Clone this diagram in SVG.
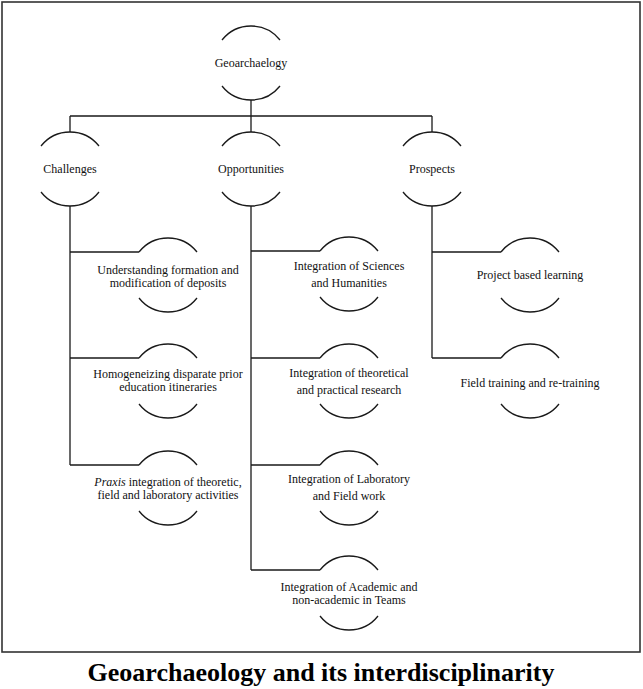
<svg xmlns="http://www.w3.org/2000/svg" width="643" height="689" viewBox="0 0 643 689">
<style>
.ln{fill:none;stroke:#1a1a1a;stroke-width:1.3}
.arc{fill:none;stroke:#1a1a1a;stroke-width:1.3}
.t{font-family:"Liberation Serif","Times New Roman",serif;font-size:12px;fill:#111;text-anchor:middle}
.ttl{font-family:"Liberation Serif","Times New Roman",serif;font-size:26px;font-weight:bold;fill:#000;text-anchor:middle}
</style>
<rect x="2" y="2" width="638" height="650" fill="#fff" stroke="#333" stroke-width="1.6"/>
<g id="connectors">
<path class="ln" d="M251,100 V116 M70,116 H432 M70,116 V132 M251,116 V132 M432,116 V132"/>
<path class="ln" d="M70,206 V465 M70,252 H139 M70,358 H139 M70,465 H139"/>
<path class="ln" d="M251,206 V570 M251,251 H320 M251,358 H320 M251,465 H320 M251,570 H320"/>
<path class="ln" d="M432,206 V358 M432,252 H501 M432,358 H501"/>
</g>
<g id="geoarchaeology">
<path class="arc" d="M222,40 A37,37 0 0 1 280,40 M222,86 A37,37 0 0 0 280,86"/>
<text class="t" x="251" y="67">Geoarchaelogy</text>
</g>
<g id="challenges">
<path class="arc" d="M41,146 A37,37 0 0 1 99,146 M41,192 A37,37 0 0 0 99,192"/>
<text class="t" x="70" y="173">Challenges</text>
</g>
<g id="opportunities">
<path class="arc" d="M222,146 A37,37 0 0 1 280,146 M222,192 A37,37 0 0 0 280,192"/>
<text class="t" x="251" y="173">Opportunities</text>
</g>
<g id="prospects">
<path class="arc" d="M403,146 A37,37 0 0 1 461,146 M403,192 A37,37 0 0 0 461,192"/>
<text class="t" x="432" y="173">Prospects</text>
</g>
<g id="understanding">
<path class="arc" d="M139,252 A37,37 0 0 1 197,252 M139,298 A37,37 0 0 0 197,298"/>
<text class="t" x="168" y="274">Understanding formation and</text>
<text class="t" x="168" y="287">modification of deposits</text>
</g>
<g id="homogeneizing">
<path class="arc" d="M139,358 A37,37 0 0 1 197,358 M139,404 A37,37 0 0 0 197,404"/>
<text class="t" x="168" y="378">Homogeneizing disparate prior</text>
<text class="t" x="168" y="391">education itineraries</text>
</g>
<g id="praxis">
<path class="arc" d="M139,465 A37,37 0 0 1 197,465 M139,511 A37,37 0 0 0 197,511"/>
<text class="t" x="168" y="486"><tspan font-style="italic">Praxis</tspan> integration of theoretic,</text>
<text class="t" x="168" y="499">field and laboratory activities</text>
</g>
<g id="sciences">
<path class="arc" d="M320,251 A37,37 0 0 1 378,251 M320,297 A37,37 0 0 0 378,297"/>
<text class="t" x="349" y="270">Integration of Sciences</text>
<text class="t" x="349" y="287">and Humanities</text>
</g>
<g id="theoretical">
<path class="arc" d="M320,358 A37,37 0 0 1 378,358 M320,404 A37,37 0 0 0 378,404"/>
<text class="t" x="349" y="377">Integration of theoretical</text>
<text class="t" x="349" y="394">and practical research</text>
</g>
<g id="laboratory">
<path class="arc" d="M320,465 A37,37 0 0 1 378,465 M320,511 A37,37 0 0 0 378,511"/>
<text class="t" x="349" y="483">Integration of Laboratory</text>
<text class="t" x="349" y="500">and Field work</text>
</g>
<g id="academic">
<path class="arc" d="M320,570 A37,37 0 0 1 378,570 M320,616 A37,37 0 0 0 378,616"/>
<text class="t" x="349" y="591">Integration of Academic and</text>
<text class="t" x="349" y="604">non-academic in Teams</text>
</g>
<g id="project">
<path class="arc" d="M501,252 A37,37 0 0 1 559,252 M501,298 A37,37 0 0 0 559,298"/>
<text class="t" x="530" y="279">Project based learning</text>
</g>
<g id="field">
<path class="arc" d="M501,358 A37,37 0 0 1 559,358 M501,404 A37,37 0 0 0 559,404"/>
<text class="t" x="530" y="387">Field training and re-training</text>
</g>
<text class="ttl" x="321" y="681">Geoarchaeology and its interdisciplinarity</text>
</svg>
